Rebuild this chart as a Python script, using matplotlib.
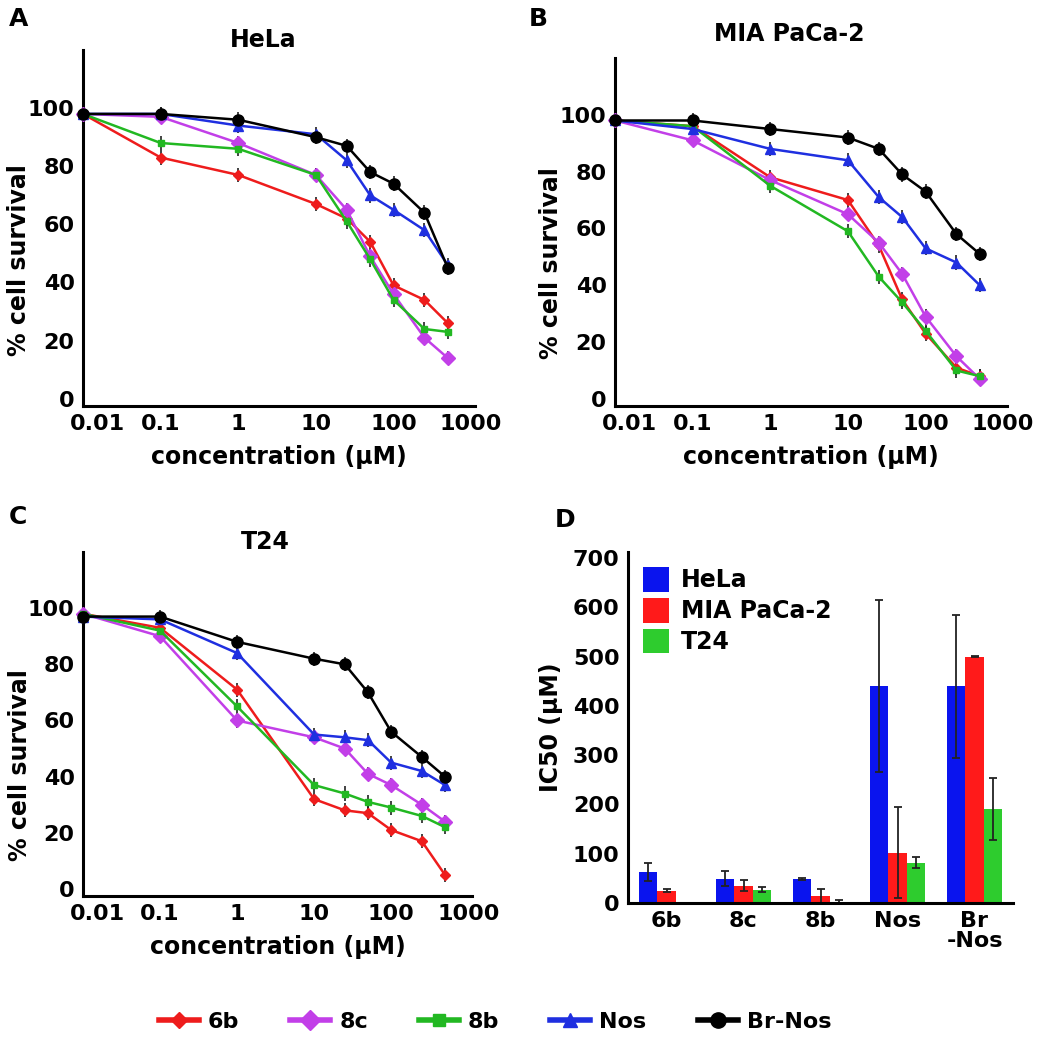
import numpy as np
import matplotlib
matplotlib.use("Agg")
import matplotlib.pyplot as plt
from matplotlib.lines import Line2D
from matplotlib.transforms import ScaledTranslation

plt.rcParams['font.family'] = ['DejaVu Sans']
plt.rcParams['font.weight'] = 'bold'

# ---------------- data ----------------
conc = [0.01, 0.1, 1, 10, 25, 50, 100, 250, 500]
compounds = ["6b", "8c", "8b", "Nos", "Br-Nos"]

hela_6b = [98, 83, 77, 67, 62, 54, 39, 34, 26]
hela_8c = [98, 97, 88, 77, 65, 49, 36, 21, 14]
hela_8b = [98, 88, 86, 77, 61, 48, 34, 24, 23]
hela_nos = [98, 98, 94, 91, 82, 70, 65, 58, 46]
hela_brnos = [98, 98, 96, 90, 87, 78, 74, 64, 45]

mia_6b = [98, 96, 78, 70, 54, 35, 23, 11, 8]
mia_8c = [98, 91, 77, 65, 55, 44, 29, 15, 7]
mia_8b = [98, 96, 75, 59, 43, 34, 24, 10, 8]
mia_nos = [98, 95, 88, 84, 71, 64, 53, 48, 40]
mia_brnos = [98, 98, 95, 92, 88, 79, 73, 58, 51]

t24_6b = [98, 93, 71, 32, 28, 27, 21, 17, 5]
t24_8c = [98, 90, 60, 54, 50, 41, 37, 30, 24]
t24_8b = [98, 92, 65, 37, 34, 31, 29, 26, 22]
t24_nos = [97, 96, 84, 55, 54, 53, 45, 42, 37]
t24_brnos = [97, 97, 88, 82, 80, 70, 56, 47, 40]

curve_err = [2.5, 2.5, 2.5, 2.5, 2.5, 2.5, 2.5, 2.5, 2.5]

ic50_groups = ["6b", "8c", "8b", "Nos", "Br\n-Nos"]
ic50_cells = ["HeLa", "MIA PaCa-2", "T24"]
ic50_hela = [63, 49, 49, 440, 440]
ic50_mia = [25, 35, 14, 102, 500]
ic50_t24 = [0, 27, 3, 82, 190]
ic50_hela_err = [19, 15, 2, 175, 145]
ic50_mia_err = [3, 11, 15, 92, 2]
ic50_t24_err = [0, 5, 3, 12, 63]

x_ticks = [0.01, 0.1, 1, 10, 100, 1000]
x_ticklabels = ["0.01", "0.1", "1", "10", "100", "1000"]
y_ticks = [0, 20, 40, 60, 80, 100]

# ---------------- styles ----------------
colors = {"6b": "#ee1c1c", "8c": "#c23fe8", "8b": "#22b822", "Nos": "#1f2fe0", "Br-Nos": "#000000"}
markers = {"6b": "D", "8c": "D", "8b": "s", "Nos": "^", "Br-Nos": "o"}
msizes = {"6b": 5, "8c": 7, "8b": 5, "Nos": 7, "Br-Nos": 8}

W, H = 1050, 1049
fig = plt.figure(figsize=(W / 100, H / 100), dpi=100)


def px_axes(left, right, top, bottom):
    return fig.add_axes([left / W, (H - bottom) / H, (right - left) / W, (bottom - top) / H])


def style_axes(ax):
    for s in ["top", "right"]:
        ax.spines[s].set_visible(False)
    for s in ["left", "bottom"]:
        ax.spines[s].set_linewidth(2.2)
    ax.tick_params(length=0, labelsize=16, pad=6)
    for lab in ax.get_xticklabels() + ax.get_yticklabels():
        lab.set_fontweight('bold')


def curve_panel(ax, series, title, title_xy, ylab_y):
    for name, vals in zip(compounds, series):
        ax.errorbar(conc, vals, yerr=curve_err, color=colors[name], marker=markers[name],
                    ms=msizes[name], lw=1.8, ecolor="#222222", elinewidth=1.2, capsize=0,
                    clip_on=False, zorder=3)
    ax.set_xscale("log")
    ax.set_xlim(0.01, 1120)
    ax.set_ylim(-2.5, 120)
    ax.set_xticks(x_ticks)
    ax.set_xticklabels(x_ticklabels)
    ax.minorticks_off()
    ax.set_yticks(y_ticks)
    ax.set_xlabel("concentration (\u03bcM)", fontsize=17, fontweight='bold', labelpad=8)
    ax.set_ylabel("% cell survival", fontsize=17, fontweight='bold')
    ax.yaxis.set_label_coords(-0.132, ylab_y)
    fig.text(title_xy[0] / W, 1 - title_xy[1] / H, title, fontsize=17, fontweight='bold',
             ha="center", va="center")
    style_axes(ax)
    first = ax.xaxis.get_major_ticks()[0].label1
    first.set_transform(first.get_transform() + ScaledTranslation(0.14, 0, fig.dpi_scale_trans))


axA = px_axes(83, 475, 50, 406)
curve_panel(axA, [hela_6b, hela_8c, hela_8b, hela_nos, hela_brnos], "HeLa", (263, 40), 0.41)
axB = px_axes(615, 1007, 58, 406)
curve_panel(axB, [mia_6b, mia_8c, mia_8b, mia_nos, mia_brnos], "MIA PaCa-2", (789, 34), 0.41)
axC = px_axes(83, 472, 552, 896)
curve_panel(axC, [t24_6b, t24_8c, t24_8b, t24_nos, t24_brnos], "T24", (265, 542), 0.38)

# ---------------- bar panel ----------------
axD = px_axes(628, 1013, 552, 903)
xg = np.arange(len(ic50_groups))
bw = 0.235
bar_colors = ["#0a14ee", "#ff1a1a", "#2ecc2e"]
for i, (vals, errs, lab) in enumerate(zip([ic50_hela, ic50_mia, ic50_t24],
                                          [ic50_hela_err, ic50_mia_err, ic50_t24_err],
                                          ic50_cells)):
    axD.bar(xg + (i - 1) * bw, vals, bw, color=bar_colors[i], label=lab,
            yerr=errs, ecolor="#222222", error_kw=dict(elinewidth=1.3, capsize=3, capthick=1.3))
axD.set_xlim(-0.5, 4.5)
axD.set_ylim(0, 712)
axD.set_yticks(range(0, 701, 100))
axD.set_xticks(xg)
axD.set_xticklabels(ic50_groups, linespacing=1.0)
axD.set_ylabel("IC50 (\u03bcM)", fontsize=17, fontweight='bold')
axD.yaxis.set_label_coords(-0.17, 0.5)
style_axes(axD)
axD.legend(loc="upper left", bbox_to_anchor=(0.0, 1.0), frameon=False,
           handlelength=1.1, handleheight=1.2, handletextpad=0.5, labelspacing=0.25,
           borderaxespad=0.25, prop={'weight': 'bold', 'size': 17})

# ---------------- panel letters ----------------
for letter, (x, y) in {"A": (9, 19), "B": (529, 19), "C": (9, 517), "D": (555, 520)}.items():
    fig.text(x / W, 1 - y / H, letter, fontsize=18, fontweight='bold', va="center", ha="left")

# ---------------- bottom legend ----------------
handles = [Line2D([0], [0], color=colors[n], marker=markers[n], ms=msizes[n] + 3, lw=4)
           for n in compounds]
fig.legend(handles, compounds, loc="center", bbox_to_anchor=(495 / W, 1 - 1022 / H), ncol=5,
           frameon=False, handlelength=1.8, handletextpad=0.4, columnspacing=2.3,
           prop={'weight': 'bold', 'size': 16})

fig.savefig("out.png", dpi=100)
